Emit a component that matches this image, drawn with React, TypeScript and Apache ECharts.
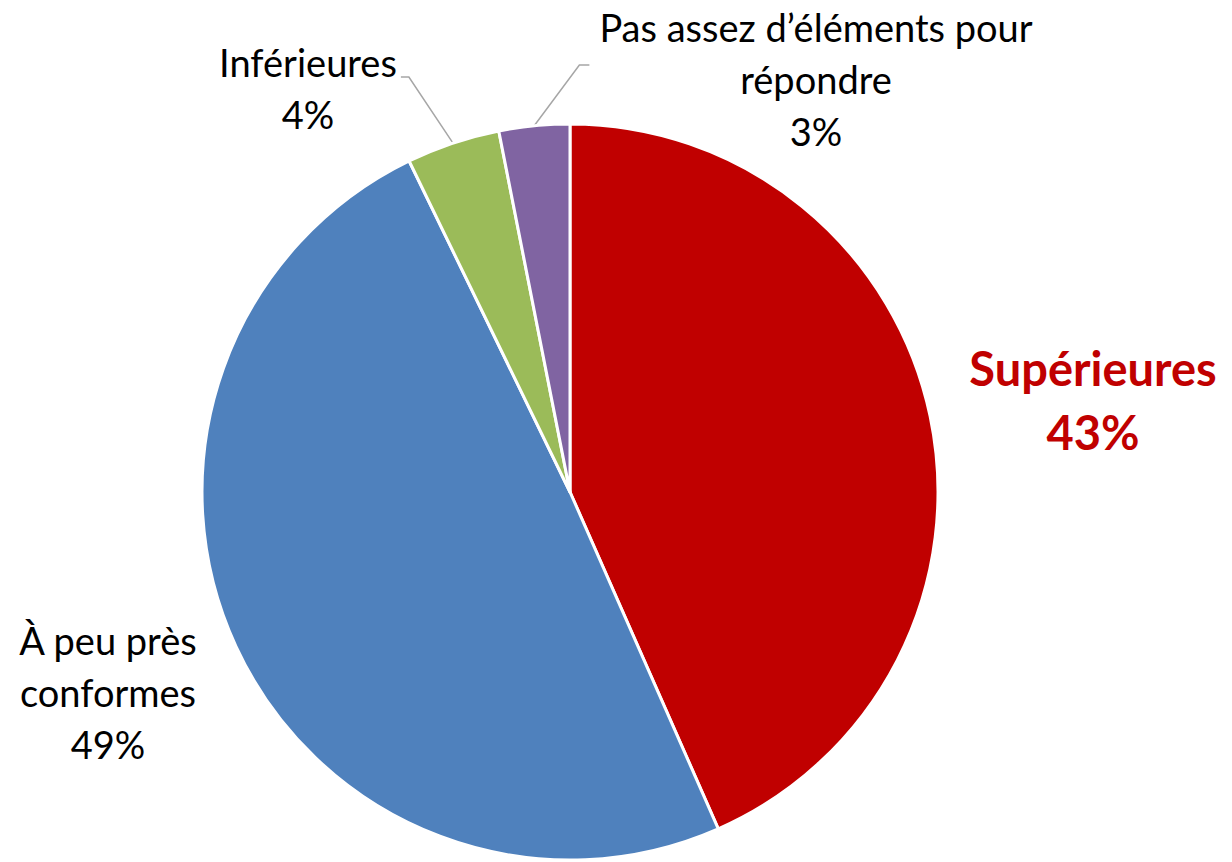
import React, { useEffect, useRef } from "react";
import * as echarts from "echarts";

const categories = [
  "Supérieures",
  "À peu près conformes",
  "Inférieures",
  "Pas assez d’éléments pour répondre",
];
const labelTexts = [
  "Supérieures",
  "À peu près\nconformes",
  "Inférieures",
  "Pas assez d’éléments pour\nrépondre",
];
const values = [43.4, 49.4, 4.1, 3.1];
const colors = ["#C00000", "#4F81BD", "#9BBB59", "#8064A2"];

const labelPos: [number, number][] = [
  [1093, 400],
  [108, 692],
  [308, 88],
  [816, 79],
];

export default function App() {
  const ref = useRef<HTMLDivElement>(null);
  useEffect(() => {
    if (!ref.current) return;
    const chart = echarts.init(ref.current, null, { renderer: "svg" });
    chart.setOption({
      animation: false,
      backgroundColor: "#ffffff",
      series: [
        {
          type: "pie",
          center: [570, 492],
          radius: 368,
          startAngle: 90,
          clockwise: true,
          avoidLabelOverlap: false,
          itemStyle: { borderColor: "#ffffff", borderWidth: 3 },
          label: {
            show: true,
            position: "outside",
            color: "#000000",
            fontFamily: "Lato",
            fontSize: 38,
            lineHeight: 52,
            fontWeight: "normal",
            align: "center",
            formatter: (p: any) =>
              labelTexts[p.dataIndex] + "\n" + Math.round(p.value) + "%",
          },
          labelLine: {
            show: true,
            length: 20,
            length2: 10,
            lineStyle: { color: "#A6A6A6", width: 1.5 },
          },
          labelLayout: (p: any) => {
            const i = p.dataIndex;
            const [cx, cy] = labelPos[i];
            const out: any = {
              x: cx,
              y: cy,
              align: "center",
              verticalAlign: "middle",
            };
            const pts = p.labelLinePoints;
            if (pts && pts.length && (i === 2 || i === 3)) {
              const w = p.labelRect.width;
              const anchor = pts[0];
              if (i === 2) {
                const ex = cx + w / 2 + 4;
                const ey = cy - 11;
                out.labelLinePoints = [anchor, [ex + 8, ey], [ex, ey]];
              } else {
                const ex = cx - w / 2 - 10;
                const ey = cy - 14;
                out.labelLinePoints = [anchor, [ex - 10, ey], [ex, ey]];
              }
            }
            return out;
          },
          data: categories.map((name, i) => ({
            name,
            value: values[i],
            itemStyle: { color: colors[i] },
            label:
              i === 0
                ? {
                    color: "#C00000",
                    fontWeight: "bold",
                    fontSize: 47,
                    lineHeight: 64,
                  }
                : {},
            labelLine: { show: i >= 2 },
          })),
        },
      ],
    });
    return () => chart.dispose();
  }, []);
  return (
    <div
      ref={ref}
      style={{ position: "fixed", left: 0, top: 0, width: 1232, height: 862 }}
    />
  );
}
